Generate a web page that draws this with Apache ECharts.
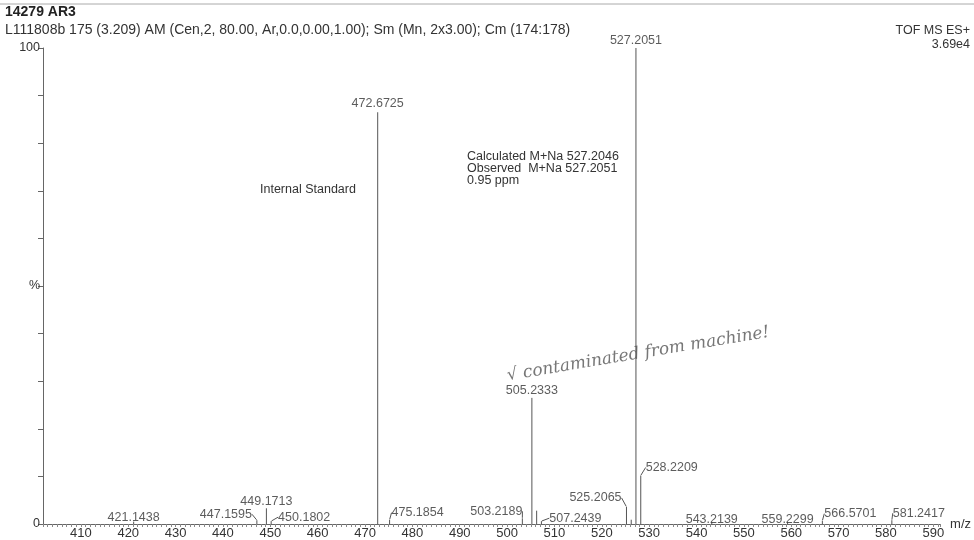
<!DOCTYPE html>
<html>
<head>
<meta charset="utf-8">
<title>14279 AR3 - TOF MS ES+</title>
<script src="https://cdn.jsdelivr.net/npm/echarts@6/dist/echarts.min.js"></script>
<style>
  html, body { margin: 0; padding: 0; background: #fff; }
  #chart { width: 974px; height: 540px; }
</style>
</head>
<body>
<div id="chart"></div>
<script>
// labelled peaks (m/z, relative intensity %)
const peakMz = [421.1438, 447.1595, 449.1713, 450.1802, 472.6725, 475.1854, 503.2189, 505.2333,
                507.2439, 525.2065, 527.2051, 528.2209, 543.2139, 559.2299, 566.5701, 581.2417];
const peakPct = [0.5, 0.8, 3.3, 0.6, 86.5, 0.9, 1.2, 26.5,
                 0.6, 3.6, 100, 10.2, 0.4, 0.4, 0.7, 0.8];
// small unlabelled peaks
const minorMz = [506.2366, 526.2095];
const minorPct = [2.8, 0.9];

const yTickLabels = { 0: '0', 50: '%', 100: '100' };

// label centre relative to the peak top, px [dx, dy]
const labelOffsets = [[0, -4], [-31, -6], [0, -7], [33, -4], [0, -9], [28, -7], [-26, -7], [0, -7],
                      [34, -3], [-31, -9], [0, -7], [31, -8], [0, -3], [0, -3], [28, -7], [27, -7]];

const FONT = '"Liberation Sans", Arial, sans-serif';
const TXT = '#333';
const LINE = '#666';

const chart = echarts.init(document.getElementById('chart'));

const stickData = peakMz.map((m, i) => [m, peakPct[i]])
  .concat(minorMz.map((m, i) => [m, minorPct[i]]));

const option = {
  animation: false,
  backgroundColor: '#fff',
  grid: { left: 43, right: 32, top: 48, bottom: 14 },
  xAxis: {
    type: 'value',
    min: 402,
    max: 591.5,
    interval: 1,
    name: 'm/z',
    nameLocation: 'end',
    nameGap: 6,
    nameTextStyle: { color: TXT, fontSize: 13, fontFamily: FONT, padding: [8, 0, 0, 0] },
    axisLine: { show: true, lineStyle: { color: LINE, width: 1 } },
    axisTick: { show: true, length: 3, lineStyle: { color: '#888' } },
    axisLabel: {
      color: TXT, fontSize: 13, fontFamily: FONT, margin: 3,
      formatter: v => (Math.abs(v % 10) < 1e-6 ? String(v) : '')
    },
    splitLine: { show: false }
  },
  yAxis: {
    type: 'value',
    min: 0,
    max: 100,
    interval: 10,
    axisLine: { show: true, lineStyle: { color: LINE, width: 1 } },
    axisTick: { show: true, length: 5, lineStyle: { color: LINE } },
    axisLabel: {
      color: TXT, fontSize: 12.5, fontFamily: FONT, margin: 3,
      formatter: v => yTickLabels[v] || ''
    },
    splitLine: { show: false }
  },
  series: [
    {
      type: 'custom',
      data: stickData,
      renderItem: function (params, api) {
        const top = api.coord([api.value(0), api.value(1)]);
        const base = api.coord([api.value(0), 0]);
        return {
          type: 'line',
          shape: { x1: top[0], y1: top[1], x2: base[0], y2: base[1] },
          style: { stroke: '#555', lineWidth: 1 }
        };
      },
      z: 2
    },
    {
      type: 'scatter',
      symbolSize: 1,
      itemStyle: { color: 'rgba(0,0,0,0)' },
      data: peakMz.map((m, i) => ({
        value: [m, peakPct[i]],
        labelLine: { show: labelOffsets[i][0] !== 0 }
      })),
      label: {
        show: true,
        color: TXT,
        fontSize: 12.5,
        fontFamily: FONT,
        formatter: p => p.value[0].toFixed(4)
      },
      labelLine: { show: false, lineStyle: { color: '#555', width: 1 } },
      labelLayout: function (params) {
        const o = labelOffsets[params.dataIndex];
        return {
          x: params.rect.x + params.rect.width / 2 + o[0],
          y: params.rect.y + params.rect.height / 2 + o[1],
          align: 'center',
          verticalAlign: 'middle'
        };
      },
      z: 3
    }
  ],
  graphic: [
    { type: 'line', shape: { x1: 0, y1: 4, x2: 974, y2: 4 }, style: { stroke: '#aaa', lineWidth: 1 } },
    { type: 'text', left: 5, top: 5,
      style: { text: '14279 AR3', fill: '#222', font: 'bold 14px ' + FONT } },
    { type: 'text', left: 5, top: 23,
      style: { text: 'L111808b 175 (3.209) AM (Cen,2, 80.00, Ar,0.0,0.00,1.00); Sm (Mn, 2x3.00); Cm (174:178)',
               fill: TXT, font: '14px ' + FONT } },
    { type: 'text', right: 4, top: 24,
      style: { text: 'TOF MS ES+', fill: TXT, font: '12.5px ' + FONT, align: 'right' } },
    { type: 'text', right: 4, top: 38,
      style: { text: '3.69e4', fill: TXT, font: '12.5px ' + FONT, align: 'right' } },
    { type: 'text', left: 260, top: 183,
      style: { text: 'Internal Standard', fill: TXT, font: '12.5px ' + FONT } },
    { type: 'text', left: 467, top: 150,
      style: { text: 'Calculated M+Na 527.2046\nObserved  M+Na 527.2051\n0.95 ppm',
               fill: TXT, font: '12.5px ' + FONT, lineHeight: 12 } },
    { type: 'text', x: 507, y: 376, rotation: 0.165,
      style: { text: '\u221a contaminated from machine!', fill: '#777',
               font: 'italic 17px "DejaVu Serif", serif', verticalAlign: 'middle' } }
  ]
};

chart.setOption(option);
window.addEventListener('resize', () => chart.resize());
</script>
</body>
</html>
